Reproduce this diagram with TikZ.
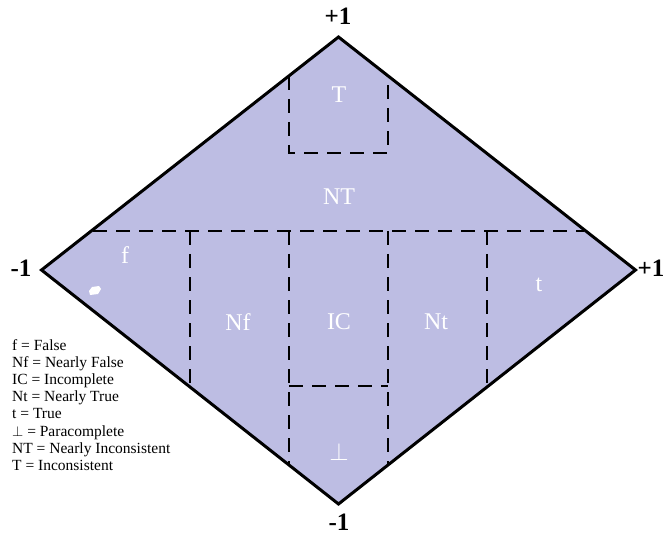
\documentclass[tikz,border=0pt]{standalone}
\usepackage{fontspec}
\setmainfont{Liberation Serif}
\definecolor{lav}{RGB}{189,189,227}
\begin{document}
\begin{tikzpicture}[x=1pt,y=-1pt,
  dline/.style={draw=black,line width=1.8pt,dash pattern=on 14pt off 9pt},
  inlab/.style={text=white,font=\fontsize{24}{26}\selectfont,inner sep=0pt},
  vlab/.style={font=\fontsize{25}{27}\selectfont\bfseries,inner sep=0pt},
  leg/.style={font=\fontsize{15.5}{17.2}\selectfont,inner sep=0pt,anchor=north west,align=left}]
\useasboundingbox (0,0) rectangle (666,537);
\coordinate (top) at (338.5,37);
\coordinate (lft) at (41.5,270);
\coordinate (rgt) at (635.5,270);
\coordinate (bot) at (338.5,504);
\fill[lav] (top) -- (rgt) -- (bot) -- (lft) -- cycle;
% dashed grid
\coordinate (h1) at (93,231);
\coordinate (h2) at (584,231);
\coordinate (ta) at (289,76);
\coordinate (tb) at (289,153);
\coordinate (tc) at (388,153);
\coordinate (td) at (388,76);
\coordinate (a1) at (190,231);
\coordinate (a2) at (190,386);
\coordinate (b1) at (289,231);
\coordinate (b2) at (289,465);
\coordinate (c1) at (388,231);
\coordinate (c2) at (388,465);
\coordinate (d1) at (487,231);
\coordinate (d2) at (487,386);
\coordinate (e1) at (289,386);
\coordinate (e2) at (388,386);
\draw[dline] (h1) -- (h2);
\draw[dline] (ta) -- (tb) -- (tc) -- (td);
\draw[dline] (a1) -- (a2);
\draw[dline] (b1) -- (b2);
\draw[dline] (c1) -- (c2);
\draw[dline] (d1) -- (d2);
\draw[dline] (e1) -- (e2);
\draw[line width=3pt,line join=miter] (top) -- (rgt) -- (bot) -- (lft) -- cycle;
% small white mark
\fill[white] (89,291) -- (92,287) -- (99,286) -- (101,289) -- (98,294) -- (90,295) -- cycle;
% labels
\node[vlab] (ltop) at (338,16) {+1};
\node[vlab] (llft) at (21,268) {-1};
\node[vlab] (lrgt) at (651,268) {+1};
\node[vlab] (lbot) at (339,522) {-1};
\node[inlab] (nT) at (339,95) {T};
\node[inlab] (nNT) at (339,197) {NT};
\node[inlab] (nf) at (125,255) {f};
\node[inlab] (nNf) at (238,322) {Nf};
\node[inlab] (nIC) at (339,322) {IC};
\node[inlab] (nNt) at (436,322) {Nt};
\node[inlab] (nt) at (539,285) {t};
\node[inlab] (nbot) at (339,452) {$\bot$};
\node[leg] (legend) at (12,339) {f = False\\Nf = Nearly False\\IC = Incomplete\\Nt = Nearly True\\t = True\\$\bot$ = Paracomplete\\NT = Nearly Inconsistent\\T = Inconsistent};
\end{tikzpicture}
\end{document}
